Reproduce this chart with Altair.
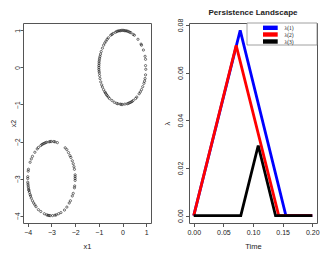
import altair as alt
import pandas as pd

# Upper circle points
up_x = [0.0, 0.05, -0.05, 0.1, -0.1, 0.15, -0.15, 0.2, -0.2, 0.25, -0.25, 0.3, -0.3, 0.35, -0.4, 0.45, -0.45, -0.5, 0.5,
        0.65, 0.78, 0.8, 0.88, 0.95, 0.97, 0.97, 0.98, 0.97, 0.95, 0.93, 0.9, 0.85, 0.8, 0.75, 0.7, 0.6, 0.55, 0.45, 0.4,
        0.35, 0.3, 0.25, 0.2, 0.1, 0.0, -0.05, -0.1, -0.2, -0.25, -0.35, -0.45, -0.55, -0.6, -0.65, -0.68, -0.72, -0.75,
        -0.8, -0.85, -0.88, -0.92, -0.95, -0.97, -0.98, -0.99, -1.0, -1.0, -1.0, -0.99, -0.99, -0.98, -0.97, -0.95, -0.93,
        -0.9, -0.85, -0.8, -0.75, -0.7, -0.65, -0.6]
up_y = [1.0, 1.0, 1.0, 0.99, 0.99, 0.99, 0.99, 0.98, 0.98, 0.97, 0.97, 0.95, 0.95, 0.94, 0.92, 0.89, 0.89, 0.87, 0.87,
        0.76, 0.63, 0.6, 0.47, 0.3, 0.22, 0.05, -0.05, -0.2, -0.3, -0.37, -0.43, -0.52, -0.6, -0.66, -0.71, -0.8, -0.84,
        -0.89, -0.92, -0.94, -0.95, -0.97, -0.98, -0.99, -1.0, -1.0, -0.99, -0.98, -0.97, -0.94, -0.89, -0.84, -0.8,
        -0.76, -0.73, -0.69, -0.66, -0.6, -0.53, -0.47, -0.39, -0.3, -0.22, -0.15, -0.1, -0.05, 0.0, 0.05, 0.1, 0.15,
        0.2, 0.25, 0.3, 0.36, 0.43, 0.52, 0.6, 0.66, 0.71, 0.76, 0.8]

# Lower circle points
lo_x = [-3.0, -3.05, -3.1, -2.9, -3.2, -3.25, -3.3, -3.35, -3.4, -3.45, -3.55, -3.6, -3.7, -3.8, -3.85, -3.9, -3.97,
        -3.98, -4.0, -4.0, -4.0, -3.99, -3.98, -3.97, -3.96, -3.95, -3.93, -3.9, -3.88, -3.85, -3.8, -3.75, -3.7, -3.65,
        -3.55, -3.45, -3.3, -3.2, -3.15, -3.1, -3.05, -2.95, -2.85, -2.8, -2.7, -2.6, -2.45, -2.35, -2.25, -2.2, -2.12,
        -2.08, -2.03, -2.02, -2.0, -2.0, -2.0, -2.0, -2.03, -2.05, -2.08, -2.12, -2.18, -2.22, -2.28, -2.35, -2.42,
        -2.75, -2.85]
lo_y = [-2.0, -2.0, -2.01, -2.0, -2.02, -2.03, -2.05, -2.06, -2.08, -2.11, -2.16, -2.2, -2.29, -2.4, -2.47, -2.56,
        -2.75, -2.8, -2.95, -3.0, -3.1, -3.15, -3.2, -3.25, -3.3, -3.32, -3.37, -3.43, -3.47, -3.53, -3.6, -3.66, -3.71,
        -3.76, -3.84, -3.89, -3.95, -3.98, -3.99, -4.0, -4.0, -4.0, -3.99, -3.98, -3.95, -3.92, -3.85, -3.77, -3.66,
        -3.6, -3.47, -3.4, -3.25, -3.2, -3.05, -3.0, -2.95, -2.9, -2.75, -2.68, -2.6, -2.52, -2.43, -2.38, -2.3, -2.22,
        -2.17, -2.03, -2.01]

# Persistence landscape
l1_t = [0.0, 0.0784, 0.1555, 0.2]
l1_v = [0.0, 0.0777, 0.0, 0.0]
l2_t = [0.0, 0.0716, 0.1434, 0.2]
l2_v = [0.0, 0.0714, 0.0, 0.0]
l3_t = [0.0, 0.0794, 0.1088, 0.138, 0.2]
l3_v = [0.0, 0.0, 0.0294, 0.0, 0.0]

leg_labels = ["λ(1)", "λ(2)", "λ(3)"]
leg_colors = ["#0000ff", "#ff0000", "#000000"]

FONT = "Liberation Sans"
TXT = "#222222"
BOX = "#555555"

pts = pd.DataFrame({"x1": up_x + lo_x, "x2": up_y + lo_y})

left = alt.Chart(pts).mark_point(shape="circle", filled=False, size=5, strokeWidth=0.8, color="#000000").encode(
    x=alt.X("x1:Q", scale=alt.Scale(domain=[-4.2, 1.2], nice=False, zero=False),
            axis=alt.Axis(values=[-4, -3, -2, -1, 0, 1], format="d", title="x1", titlePadding=7)),
    y=alt.Y("x2:Q", scale=alt.Scale(domain=[-4.2, 1.2], nice=False, zero=False),
            axis=alt.Axis(values=[-4, -3, -2, -1, 0, 1], format="d", title="x2", labelAngle=-90,
                          labelAlign="center", labelBaseline="bottom", titlePadding=-1.5, labelPadding=-0.5,
                          tickSize=3, labelFontSize=6.5, titleFontSize=7)),
).properties(width=128, height=200)

def line(t, v, c):
    df = pd.DataFrame({"t": t, "v": v})
    return alt.Chart(df).mark_line(color=c, strokeWidth=2.8, strokeCap="butt").encode(
        x=alt.X("t:Q", scale=alt.Scale(domain=[-0.008, 0.208], nice=False, zero=False),
                axis=alt.Axis(values=[0, 0.05, 0.1, 0.15, 0.2], format=".2f", title="Time", titlePadding=7)),
        y=alt.Y("v:Q", scale=alt.Scale(domain=[-0.0031, 0.0808], nice=False, zero=False),
                axis=alt.Axis(values=[0, 0.02, 0.04, 0.06, 0.08], format=".2f", title="λ", labelAngle=-90,
                              labelAlign="center", labelBaseline="bottom", titlePadding=5, labelPadding=2)),
    )

leg = pd.DataFrame({"lab": leg_labels, "col": leg_colors, "yc": [4.8, 11.5, 18.5]})
leg["y0"] = leg["yc"] - 2.2
leg["y1"] = leg["yc"] + 2.2

legbox = alt.Chart(leg.head(1)).mark_rect(fill="white", stroke="#888888", strokeWidth=0.8).encode(
    x=alt.value(58), x2=alt.value(128), y=alt.value(0), y2=alt.value(22))
legrect = alt.Chart(leg).mark_rect().encode(
    x=alt.value(74), x2=alt.value(88.7),
    y=alt.Y("y0:Q", scale=None), y2="y1:Q",
    fill=alt.Fill("col:N", scale=None))
legtext = alt.Chart(leg).mark_text(font="Liberation Serif", fontSize=5.5, align="left", baseline="middle", color="#111111").encode(
    x=alt.value(95.5), y=alt.Y("yc:Q", scale=None), text="lab:N")

right = alt.layer(
    line(l1_t, l1_v, "#0000ff"),
    line(l2_t, l2_v, "#ff0000"),
    line(l3_t, l3_v, "#000000"),
    legbox, legrect, legtext,
).properties(width=128, height=200,
             title=alt.TitleParams("Persistence Landscape", fontSize=8, font=FONT, fontWeight="bold", color=TXT, offset=1))

chart = alt.hconcat(left, right, spacing=38, bounds="flush").properties(
    padding={"left": 0, "top": 0, "right": 0, "bottom": 0}
).configure_view(stroke=BOX, strokeWidth=1).configure_axis(
    grid=False, domain=False, tickColor=BOX, tickSize=3.5, labelFont=FONT, labelFontSize=7,
    labelColor=TXT, titleFont=FONT, titleFontSize=7.5, titleFontWeight="normal", titleColor=TXT,
    labelPadding=2
).configure_axisX(labelPadding=1.5)

chart.save("out.html", embed_options={"renderer": "svg", "actions": False})
